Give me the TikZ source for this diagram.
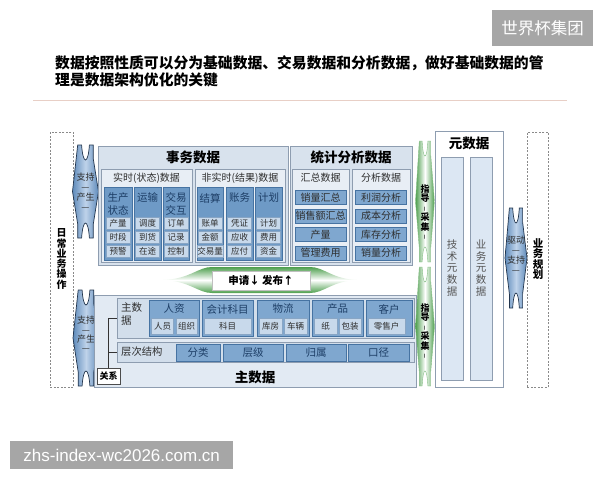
\documentclass[tikz,border=0pt]{standalone}
\usepackage{fontspec}
\setmainfont{Noto Sans CJK SC}
\newfontfamily\urlfont{Liberation Sans}

\definecolor{wmgray}{HTML}{A6A6A6}
\definecolor{rulepink}{HTML}{E8CFC6}
\definecolor{frameline}{HTML}{8E9DB0}
\definecolor{outerfill}{HTML}{D8E2ED}
\definecolor{subfill}{HTML}{E8EEF5}
\definecolor{colfill}{HTML}{6E9AC6}
\definecolor{colline}{HTML}{4673A2}
\definecolor{coltext}{HTML}{1D3E66}
\definecolor{itemfill}{HTML}{C8D9EB}
\definecolor{itemline}{HTML}{88A5C4}
\definecolor{statfill}{HTML}{7FA7CF}
\definecolor{darktext}{HTML}{2E2E2E}
\definecolor{lowfill}{HTML}{E2EAF3}
\definecolor{panelfill}{HTML}{D2DEEB}
\definecolor{metafill}{HTML}{DCE7F3}
\definecolor{arrowblue}{HTML}{5F8BBB}
\definecolor{arrowlight}{HTML}{BFD3EA}
\definecolor{arrowline}{HTML}{22354D}
\definecolor{arrowgreen}{HTML}{4E9F4E}
\definecolor{dashgray}{HTML}{8A8A8A}
\definecolor{metatext}{HTML}{555555}

\newcommand{\upbar}{\rotatebox{90}{\scalebox{0.55}{—}}}

\tikzset{
  pics/notch/.style 2 args={code={
    \path[pic actions] (-0.6*#1,-#2) -- (-0.3*#1,-#2)
      .. controls (-0.2*#1,-#2+20) and (0.2*#1,-#2+20) .. (0.3*#1,-#2)
      -- (0.6*#1,-#2) -- (0.6*#1,-#2+14) -- (#1,0) -- (0.6*#1,#2-14)
      -- (0.6*#1,#2) -- (0.3*#1,#2)
      .. controls (0.2*#1,#2-20) and (-0.2*#1,#2-20) .. (-0.3*#1,#2)
      -- (-0.6*#1,#2) -- (-0.6*#1,#2-14) -- (-#1,0) -- cycle;
  }},
  frame/.style={draw=frameline, line width=0.6pt, inner sep=0pt, outer sep=0pt, anchor=north west},
  outerbox/.style={frame, fill=outerfill},
  subbox/.style={frame, fill=subfill},
  colbox/.style={draw=colline, line width=0.5pt, fill=colfill, inner sep=0pt, anchor=north west, minimum height=73pt},
  item/.style={draw=itemline, line width=0.4pt, fill=itemfill, inner sep=0pt, minimum height=12.5pt, minimum width=24pt, text=darktext, font=\fontsize{8.5}{9}\selectfont},
  stat/.style={draw=colline, line width=0.5pt, fill=statfill, inner sep=0pt, minimum height=14pt, minimum width=51pt, text=darktext, font=\fontsize{10}{10}\selectfont},
  catbox/.style={draw=colline, line width=0.5pt, fill=statfill, inner sep=0pt, anchor=north west, minimum height=36pt},
  subcell/.style={draw=itemline, line width=0.4pt, fill=itemfill, inner sep=0pt, minimum height=16pt, text=darktext, font=\fontsize{8.5}{9}\selectfont},
  hier/.style={draw=colline, line width=0.5pt, fill=statfill, inner sep=0pt, minimum height=17pt, text=coltext, font=\fontsize{10.5}{11}\selectfont},
  bigtitle/.style={font=\fontsize{13.5}{14}\selectfont\bfseries, text=black, inner sep=0pt},
  subtitle/.style={font=\fontsize{10}{11}\selectfont, text=darktext, inner sep=0pt},
  colhead/.style={font=\fontsize{10.5}{13}\selectfont, text=coltext, align=center, inner sep=0pt},
  dashbox/.style={draw=dashgray, line width=0.6pt, dash pattern=on 2pt off 1.5pt, inner sep=0pt, anchor=north west},
  blueshape/.style={draw=arrowline, line width=0.7pt, left color=arrowblue, right color=arrowblue, middle color=arrowlight},
  greenshape/.style={draw=arrowgreen!70, line width=0.4pt, left color=arrowgreen, right color=arrowgreen, middle color=white},
  arrowtxt/.style={font=\fontsize{9}{10}\selectfont, text=darktext, align=center, inner sep=0pt},
  guidetxt/.style={font=\fontsize{9}{9.5}\selectfont\bfseries, text=black, align=center, inner sep=0pt},
  vbold/.style={font=\fontsize{10.5}{10.5}\selectfont\bfseries, text=black, align=center, inner sep=0pt},
  vmeta/.style={font=\fontsize{10.5}{11.7}\selectfont, text=metatext, align=center, inner sep=0pt}
}

\begin{document}
\begin{tikzpicture}[x=1pt, y=-1pt]
  \useasboundingbox (0,0) rectangle (600,480);

  % watermarks and heading
  \node[fill=wmgray, text=white, inner sep=0pt, minimum width=101pt, minimum height=36pt,
        font=\fontsize{16.5}{17}\selectfont] (wmtop) at (542.5,28) {世界杯集团};
  \node[anchor=base west, inner sep=0pt, font=\fontsize{14.8}{17}\selectfont\bfseries] (head1) at (55,68.6)
    {数据按照性质可以分为基础数据、交易数据和分析数据，做好基础数据的管};
  \node[anchor=base west, inner sep=0pt, font=\fontsize{14.8}{17}\selectfont\bfseries] (head2) at (55,85.6)
    {理是数据架构优化的关键};
  \draw[rulepink, line width=0.8pt] (33,100) -- (567,100);

  % daily operations side
  \node[dashbox, minimum width=23pt, minimum height=255pt] (ops) at (50,132) {};
  \node[vbold, font=\fontsize{10}{10.3}\selectfont\bfseries] (opst) at (61.5,259) {日\\常\\业\\务\\操\\作};
  \pic[blueshape] at (85.5,191.5) {notch={13}{46.5}};
  \node[arrowtxt] (sup1) at (85.5,192) {支持\\—\\产生\\—};

  % transaction data
  \node[outerbox, minimum width=190pt, minimum height=119pt] (tx) at (98,146) {};
  \node[bigtitle] (txt) at (193,157) {事务数据};
  \node[subbox, minimum width=91pt, minimum height=93pt] (rt) at (101,169) {};
  \node[subbox, minimum width=90pt, minimum height=93pt] (nrt) at (195,169) {};
  \node[subtitle] (rtt) at (146.5,178) {实时(状态)数据};
  \node[subtitle] (nrtt) at (240,178) {非实时(结果)数据};

  \node[colbox, minimum width=28pt] (c1) at (104,187) {};
  \node[colbox, minimum width=27pt] (c2) at (134,187) {};
  \node[colbox, minimum width=26pt] (c3) at (163,187) {};
  \node[colbox, minimum width=26pt] (c4) at (197,187) {};
  \node[colbox, minimum width=27pt] (c5) at (226,187) {};
  \node[colbox, minimum width=27pt] (c6) at (255,187) {};
  \node[colhead] (c1t) at (118,203.5) {生产\\状态};
  \node[colhead] (c2t) at (147.5,198) {运输};
  \node[colhead] (c3t) at (176,203.5) {交易\\交互};
  \node[colhead] (c4t) at (210,198) {结算};
  \node[colhead] (c5t) at (239.5,198) {账务};
  \node[colhead] (c6t) at (268.5,198) {计划};

  \node[item] (c1a) at (118,223) {产量};
  \node[item] (c1b) at (118,237) {时段};
  \node[item] (c1c) at (118,251) {预警};
  \node[item] (c2a) at (147.5,223) {调度};
  \node[item] (c2b) at (147.5,237) {到货};
  \node[item] (c2c) at (147.5,251) {在途};
  \node[item] (c3a) at (176,223) {订单};
  \node[item] (c3b) at (176,237) {记录};
  \node[item] (c3c) at (176,251) {控制};
  \node[item] (c4a) at (210,223) {账单};
  \node[item] (c4b) at (210,237) {金额};
  \node[item] (c4c) at (210,251) {交易量};
  \node[item] (c5a) at (239.5,223) {凭证};
  \node[item] (c5b) at (239.5,237) {应收};
  \node[item] (c5c) at (239.5,251) {应付};
  \node[item] (c6a) at (268.5,223) {计划};
  \node[item] (c6b) at (268.5,237) {费用};
  \node[item] (c6c) at (268.5,251) {资金};

  % statistics data
  \node[outerbox, minimum width=122pt, minimum height=119pt] (st) at (290,146) {};
  \node[bigtitle] (stt) at (351,157) {统计分析数据};
  \node[subbox, minimum width=57pt, minimum height=93pt] (sum) at (292,169) {};
  \node[subbox, minimum width=58pt, minimum height=93pt] (ana) at (352,169) {};
  \node[subtitle] (sumt) at (320.5,178) {汇总数据};
  \node[subtitle] (anat) at (381,178) {分析数据};
  \node[stat] (s1) at (320.5,197.5) {销量汇总};
  \node[stat] (s2) at (320.5,216) {销售额汇总};
  \node[stat] (s3) at (320.5,234.5) {产量};
  \node[stat] (s4) at (320.5,253) {管理费用};
  \node[stat] (a1) at (381,197.5) {利润分析};
  \node[stat] (a2) at (381,216) {成本分析};
  \node[stat] (a3) at (381,234.5) {库存分析};
  \node[stat] (a4) at (381,253) {销量分析};

  % request / publish band
  \path[top color=arrowgreen, bottom color=arrowgreen, middle color=white]
    (163,280) .. controls (190,279) and (198,267) .. (212,267) -- (310,267)
    .. controls (324,267) and (332,279) .. (357,280)
    .. controls (332,281) and (324,293) .. (310,293) -- (212,293)
    .. controls (198,293) and (190,281) .. (163,280) -- cycle;
  \node[fill=white, draw=black!25, line width=0.4pt, inner sep=0pt, minimum width=98pt, minimum height=19pt,
        font=\fontsize{10.5}{11}\selectfont\bfseries] (req) at (261,280.5) {申请↓ 发布↑};

  % master data
  \pic[blueshape] at (86,338) {notch={13}{48}};
  \node[arrowtxt, font=\fontsize{9}{9.3}\selectfont] (sup2) at (86,334) {支持\\—\\产生\\—};
  \node[frame, fill=lowfill, minimum width=322pt, minimum height=92pt] (md) at (94,295) {};
  \node[frame, fill=panelfill, minimum width=297pt, minimum height=40pt] (mp) at (117,298) {};
  \node[anchor=west, align=left, inner sep=0pt, text=darktext, font=\fontsize{10.5}{13}\selectfont] (mpt) at (121,314.5) {主数\\据};

  \node[catbox, minimum width=50pt] (k1) at (149,300) {};
  \node[catbox, minimum width=51pt] (k2) at (202,300) {};
  \node[catbox, minimum width=52pt] (k3) at (257,300) {};
  \node[catbox, minimum width=51pt] (k4) at (312,300) {};
  \node[catbox, minimum width=46pt] (k5) at (366,300) {};
  \node[colhead] (k1t) at (174,309) {人资};
  \node[colhead] (k2t) at (227.5,309) {会计科目};
  \node[colhead] (k3t) at (283,309) {物流};
  \node[colhead] (k4t) at (337.5,309) {产品};
  \node[colhead] (k5t) at (389,309) {客户};
  \node[subcell, minimum width=22pt] (k1a) at (162.5,326) {人员};
  \node[subcell, minimum width=21pt] (k1b) at (186.5,326) {组织};
  \node[subcell, minimum width=47pt] (k2a) at (227.5,326) {科目};
  \node[subcell, minimum width=23pt] (k3a) at (270.5,326) {库房};
  \node[subcell, minimum width=23pt] (k3b) at (295.5,326) {车辆};
  \node[subcell, minimum width=23pt] (k4a) at (325.5,326) {纸};
  \node[subcell, minimum width=22pt] (k4b) at (350,326) {包装};
  \node[subcell, minimum width=37pt] (k5a) at (386.5,326) {零售户};

  \node[frame, fill=panelfill, minimum width=297pt, minimum height=20pt] (hp) at (117,342) {};
  \node[anchor=west, inner sep=0pt, text=darktext, font=\fontsize{10.3}{11}\selectfont] (hpt) at (121,352) {层次结构};
  \node[hier, minimum width=44pt] (h1) at (198,352.5) {分类};
  \node[hier, minimum width=60pt] (h2) at (253,352.5) {层级};
  \node[hier, minimum width=60pt] (h3) at (316,352.5) {归属};
  \node[hier, minimum width=61pt] (h4) at (378.5,352.5) {口径};

  \node[draw=black!70, line width=0.5pt, fill=white, inner sep=0pt, minimum width=23pt, minimum height=16pt,
        font=\fontsize{9}{9}\selectfont\bfseries] (rel) at (108.5,376) {关系};
  \draw[black!80, line width=0.7pt] (rel.north) |- (mp.west);
  \draw[black!80, line width=0.7pt] (rel.north) |- (hp.west);
  \node[bigtitle] (mdt) at (255,377) {主数据};

  % guide / collect
  \pic[greenshape] at (425,201.5) {notch={9.5}{60.5}};
  \pic[greenshape] at (425,326.5) {notch={9.5}{59.5}};
  \node[guidetxt] (gd1) at (425,212) {指\\导\\\upbar\\采\\集\\\upbar};
  \node[guidetxt] (gd2) at (425,331) {指\\导\\\upbar\\采\\集\\\upbar};

  % metadata
  \node[frame, fill=white, minimum width=68pt, minimum height=256pt] (meta) at (435,131) {};
  \node[bigtitle] (metat) at (469,143) {元数据};
  \node[frame, fill=metafill, minimum width=22pt, minimum height=223pt] (tech) at (441,157) {};
  \node[frame, fill=metafill, minimum width=22pt, minimum height=223pt] (biz) at (470,157) {};
  \node[vmeta] (techt) at (452,268) {技\\术\\元\\数\\据};
  \node[vmeta] (bizt) at (481,268) {业\\务\\元\\数\\据};

  % business planning side
  \pic[blueshape] at (516,258) {notch={11}{50}};
  \node[arrowtxt] (drv) at (516,254.5) {驱动\\—\\支持\\—};
  \node[dashbox, minimum width=21pt, minimum height=255pt] (plan) at (527,132) {};
  \node[vbold] (plant) at (538,259) {业\\务\\规\\划};

  \node[fill=wmgray, text=white, inner sep=0pt, anchor=north west, minimum width=223pt, minimum height=28pt,
        font=\urlfont\fontsize{17}{17}\selectfont] (wmbot) at (10,441) {zhs-index-wc2026.com.cn};
\end{tikzpicture}
\end{document}
